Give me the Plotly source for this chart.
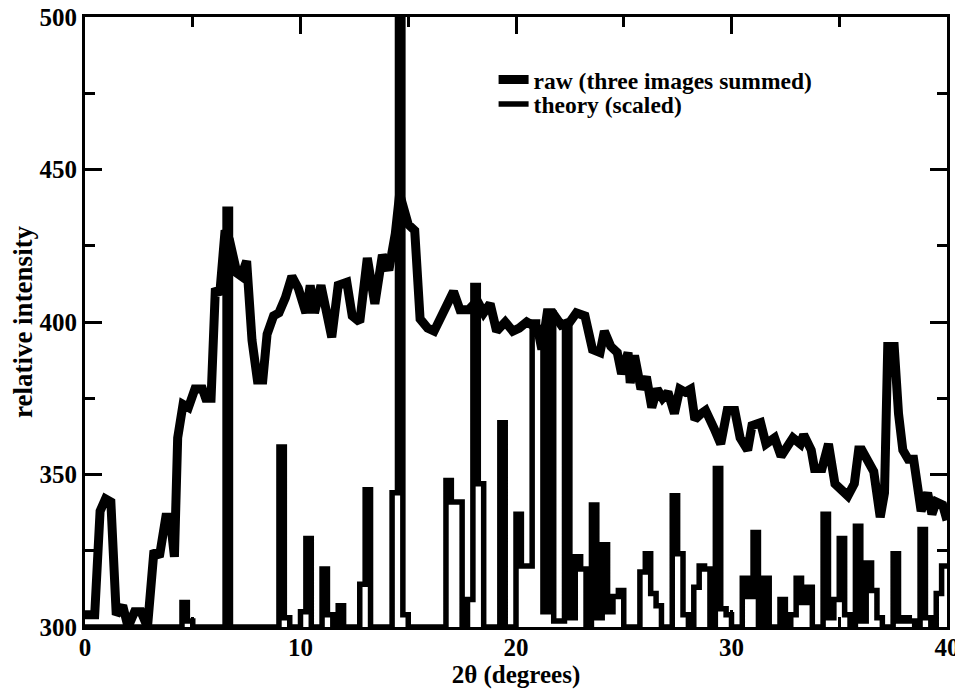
import plotly.graph_objects as go

# ---- raw (three images summed): thick zig-zag curve ----
raw_x = [0.0, 0.45, 0.7, 0.95, 1.2, 1.45, 1.75, 2.0, 2.3, 2.6, 2.9, 3.2, 3.45, 3.75, 3.95,
         4.15, 4.3, 4.55, 4.8, 5.1, 5.45, 5.6, 5.85, 6.05, 6.25, 6.5, 6.7, 7.05, 7.25, 7.5,
         7.75, 8.0, 8.25, 8.45, 8.75, 9.0, 9.3, 9.6, 9.9, 10.25, 10.45, 10.65, 10.95, 11.45,
         11.75, 12.15, 12.4, 12.75, 13.1, 13.45, 13.8, 14.1, 14.4, 14.6, 15.0, 15.3, 15.55,
         15.9, 16.2, 16.7, 17.1, 17.4, 17.8, 18.2, 18.5, 18.8, 19.1, 19.5, 19.85, 20.15, 20.5,
         21.0, 21.2, 21.45, 21.7, 22.1, 22.5, 22.8, 23.2, 23.55, 23.9, 24.1, 24.4, 24.7, 24.9,
         25.2, 25.3, 25.5, 25.8, 26.05, 26.3, 26.55, 26.8, 27.05, 27.35, 27.6, 27.85, 28.1,
         28.3, 28.6, 28.8, 29.2, 29.5, 29.8, 30.15, 30.4, 30.75, 30.95, 31.35, 31.6, 32.0,
         32.3, 32.6, 32.85, 33.2, 33.35, 33.7, 33.85, 34.2, 34.5, 34.8, 35.1, 35.4, 35.7,
         35.9, 36.05, 36.3, 36.6, 36.9, 37.1, 37.25, 37.55, 37.75, 37.95, 38.2, 38.45, 38.8,
         39.1, 39.3, 39.5, 39.8, 40.0]
raw_y = [304, 304, 338, 342, 341, 304, 307, 300, 305, 305, 300, 325, 323, 336, 336,
         323, 362, 373, 372, 378, 378, 375, 375, 411, 409, 430, 427, 416, 415, 420,
         394, 381, 381, 396, 402, 403, 408, 415, 411, 403, 412, 403, 412, 395,
         412, 413, 402, 400, 421, 406, 422, 417, 429, 442, 432, 430, 401,
         398, 397, 404, 410, 404, 404, 407, 403, 406, 397, 400, 397, 398, 400,
         398, 391, 403, 403, 399, 400, 403, 402, 391, 390, 397, 392, 390, 383,
         390, 380, 389, 378, 382, 372, 378, 375, 377, 370, 378, 377, 378,
         368, 370, 371, 365, 360, 371, 371, 362, 358, 366, 367, 360, 362,
         356, 360, 362, 360, 363, 358, 352, 352, 360, 347, 345, 343, 347,
         358, 358, 354, 351, 336, 344, 392, 392, 370, 358, 355, 355, 338,
         344, 337, 341, 340, 335]

# ---- theory (scaled): binned step curve, 0.25 degree bins ----
bin_width = 0.25
theory_baseline = 300
theory_peak_x = [4.5, 4.75, 6.5, 9.0, 9.25, 10.0, 10.25, 11.0, 11.25, 11.75, 12.75, 13.0,
                 14.25, 14.5, 14.75, 16.75, 17.0, 17.25, 17.75, 18.0, 18.25, 19.25,
                 20.0, 20.25, 20.5, 20.75, 21.0, 21.25, 21.5, 21.75, 22.0, 22.25, 22.5,
                 22.75, 23.0, 23.5, 23.75, 24.0, 24.25, 24.5, 24.75, 25.75, 26.0, 26.25,
                 26.5, 27.25, 27.5, 27.75, 28.25, 28.5, 28.75, 29.25, 29.5, 29.75, 30.5,
                 30.75, 31.0, 31.5, 32.25, 32.75, 33.0, 33.25, 33.5, 34.25, 34.5, 34.75,
                 35.0, 35.25, 35.75, 36.0, 36.25, 36.5, 36.75, 37.5, 37.75, 38.0, 38.25,
                 38.75, 39.0, 39.5, 39.75]
theory_peak_y = [308, 302, 437, 359, 303, 305, 329, 319, 304, 307, 314, 345,
                 344, 520, 304, 348, 341, 341, 309, 412, 347, 367,
                 337, 320, 320, 400, 396, 305, 403, 302, 302, 398, 303,
                 323, 319, 340, 303, 327, 305, 310, 312, 318, 324, 311,
                 307, 343, 324, 304, 313, 320, 319, 352, 306, 304, 316,
                 310, 331, 316, 309, 304, 316, 308, 313, 337, 303, 309,
                 329, 304, 333, 302, 321, 312, 303, 324, 302, 303, 302,
                 332, 303, 311, 320]

n_bins = int(round(40 / bin_width))
theory_x = [i * bin_width for i in range(n_bins + 1)]
lookup = {round(x, 2): y for x, y in zip(theory_peak_x, theory_peak_y)}
theory_y = [lookup.get(round(x, 2), theory_baseline) for x in theory_x[:-1]]
theory_y.append(theory_y[-1])

FONT = "Liberation Serif"

fig = go.Figure()
fig.add_trace(go.Scatter(
    x=raw_x, y=raw_y, mode="lines", name="raw (three images summed)",
    line=dict(color="black", width=9), legend="legend"))
fig.add_trace(go.Scatter(
    x=theory_x, y=theory_y, mode="lines", name="theory (scaled)",
    line=dict(color="black", width=5.5, shape="hv"), legend="legend2"))

axis_common = dict(
    showline=True, linecolor="black", linewidth=3, mirror="ticks",
    ticks="inside", tickcolor="black", tickwidth=2.5, ticklen=17,
    showgrid=False, zeroline=False, automargin=False,
    ticklabeloverflow="allow",
    tickfont=dict(family=FONT, size=25, color="black", weight="bold"),
)

fig.update_xaxes(
    range=[0, 40], dtick=10, tick0=0,
    minor=dict(ticks="inside", dtick=5, ticklen=10, tickwidth=2.5, tickcolor="black"),
    ticklabelstandoff=-4,
    title=dict(text="2θ (degrees)", font=dict(family=FONT, size=25, color="black", weight="bold"),
               standoff=0),
    **axis_common)
fig.update_yaxes(
    range=[300, 500], dtick=50, tick0=300,
    minor=dict(ticks="inside", dtick=25, ticklen=10, tickwidth=2.5, tickcolor="black"),
    title=dict(text="relative intensity", font=dict(family=FONT, size=27, color="black", weight="bold"),
               standoff=2),
    **axis_common)

legend_font = dict(family=FONT, size=23.5, color="black", weight="bold")
fig.update_layout(
    width=955, height=684,
    margin=dict(l=77, r=16, t=9, b=65),
    paper_bgcolor="white", plot_bgcolor="white",
    showlegend=True,
    legend=dict(x=0.474, y=0.897, xanchor="left", yanchor="middle",
                bgcolor="rgba(0,0,0,0)", font=legend_font, itemwidth=30),
    legend2=dict(x=0.474, y=0.857, xanchor="left", yanchor="middle",
                 bgcolor="rgba(0,0,0,0)", font=legend_font, itemwidth=30),
)

fig.write_html("out.html")
